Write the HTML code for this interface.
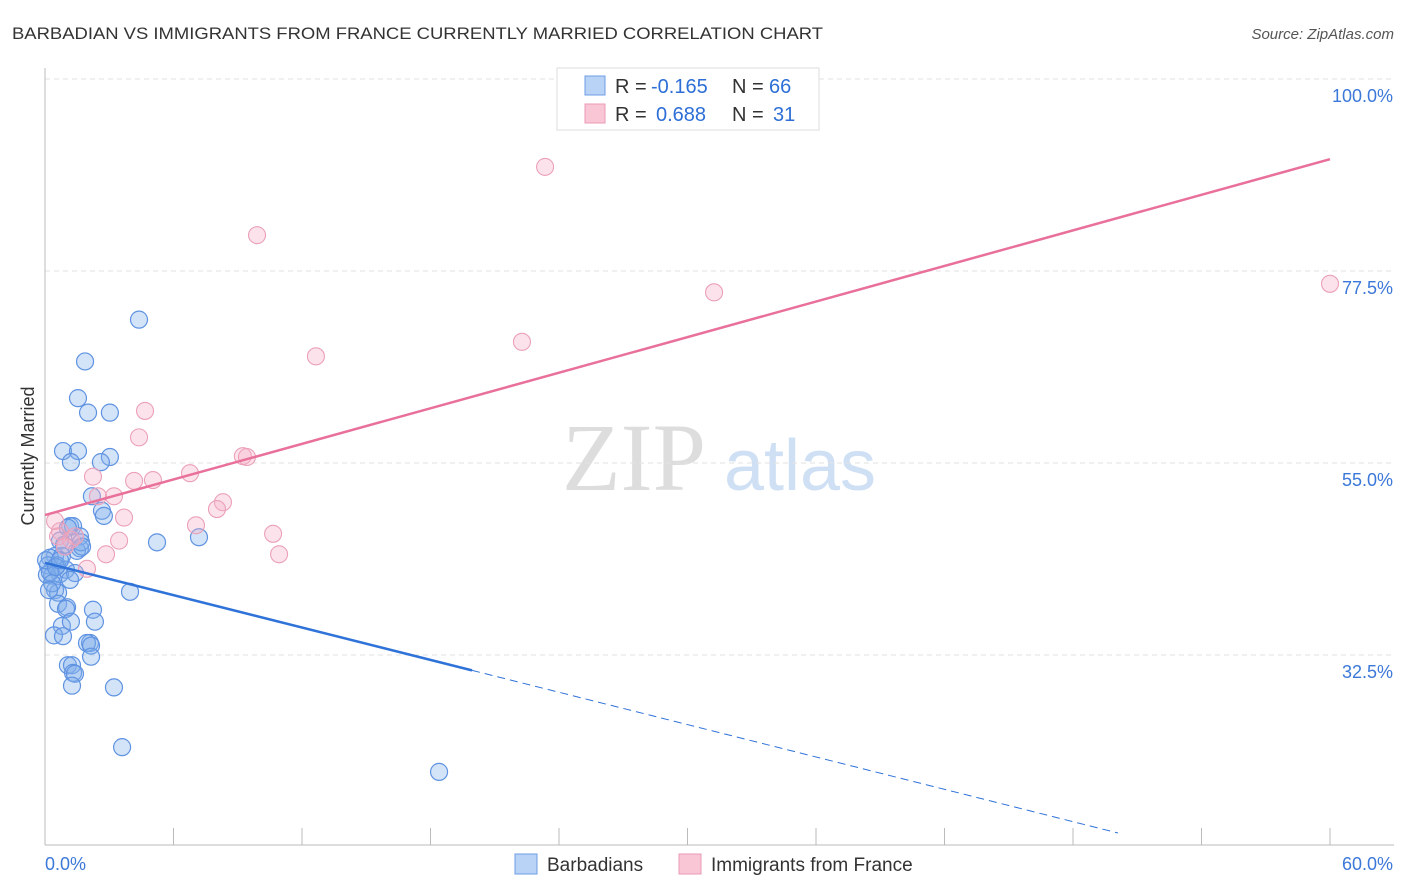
<!DOCTYPE html>
<html><head><meta charset="utf-8"><style>
body{margin:0;background:#fff;width:1406px;height:892px;overflow:hidden;font-family:"Liberation Sans",sans-serif}
svg{position:absolute;left:0;top:0}
</style></head><body>
<svg id="c" width="1406" height="892">
<text x="12" y="39" font-size="17" fill="#333" textLength="811" lengthAdjust="spacingAndGlyphs">BARBADIAN VS IMMIGRANTS FROM FRANCE CURRENTLY MARRIED CORRELATION CHART</text>
<text x="1394" y="39" font-size="15" fill="#555" font-style="italic" text-anchor="end">Source: ZipAtlas.com</text>
<text x="634" y="490" font-size="96" fill="#ddd" font-family="Liberation Serif,serif" text-anchor="middle">ZIP</text>
<text x="800" y="490" font-size="72" fill="#cfe0f5" text-anchor="middle">atlas</text>
<text transform="translate(34,456) rotate(-90)" font-size="18" fill="#333" text-anchor="middle">Currently Married</text>
<g id="grid"></g><g id="pts"></g><g id="lines"></g>
<g font-size="20">
<rect x="557" y="68" width="262" height="62" fill="#fff" stroke="#ddd"/>
<rect x="585" y="76" width="20" height="19" fill="#b8d3f5" stroke="#6d9ee6"/>
<rect x="585" y="104" width="20" height="19" fill="#f9c6d6" stroke="#eb9bb6"/>
<text x="615" y="93" fill="#333">R =</text><text x="651" y="93" fill="#2d6fd6">-0.165</text>
<text x="732" y="93" fill="#333">N =</text><text x="769" y="93" fill="#2d6fd6">66</text>
<text x="615" y="121" fill="#333">R =</text><text x="656" y="121" fill="#2d6fd6">0.688</text>
<text x="732" y="121" fill="#333">N =</text><text x="773" y="121" fill="#2d6fd6">31</text>
</g>
<g>
<rect x="515" y="854" width="22" height="20" fill="#b8d3f5" stroke="#6d9ee6"/>
<text x="547" y="871" font-size="19" fill="#333">Barbadians</text>
<rect x="679" y="854" width="22" height="20" fill="#f9c6d6" stroke="#eb9bb6"/>
<text x="711" y="871" font-size="19" fill="#333">Immigrants from France</text>
</g>
</svg>
<script>
const xTicks=[0,60];
const yTicks=[32.5,55.0,77.5,100.0];
const blueX=[4.39,1.87,1.54,2.01,3.03,0.84,1.54,3.03,1.21,2.61,2.19,2.66,2.75,1.17,1.31,1.63,0.70,1.63,1.49,0.47,0.23,0.79,0.14,0.56,0.98,0.33,0.70,1.40,1.17,0.47,0.61,3.97,0.61,1.03,0.98,2.24,0.79,1.21,2.33,0.42,0.84,2.10,1.96,2.15,2.15,1.07,1.26,1.31,1.40,1.26,3.22,3.60,18.40,5.23,7.19,0.09,0.23,0.05,0.33,0.51,0.89,1.68,0.70,0.19,1.07,1.73];
const blueY=[71.8,66.9,62.6,60.9,60.9,56.4,56.4,55.7,55.1,55.1,51.1,49.4,48.8,47.6,47.6,46.4,45.9,45.0,44.7,44.1,43.9,44.1,43.0,43.0,42.5,41.8,42.0,42.1,41.3,40.1,39.8,39.9,38.5,38.1,37.9,37.8,35.9,36.4,36.4,34.8,34.7,33.9,33.9,33.6,32.3,31.3,31.3,30.4,30.3,28.9,28.7,21.7,18.8,45.7,46.3,41.9,42.2,43.6,40.9,42.8,45.4,45.7,43.6,40.1,47.4,45.2];
const pinkX=[23.35,9.90,31.24,60.0,22.27,12.65,4.67,4.39,6.77,9.24,9.43,5.04,4.16,2.24,3.22,2.47,8.31,8.03,3.69,7.05,10.65,3.46,10.93,2.85,0.47,0.70,0.61,1.21,1.96,1.40,0.93];
const pinkY=[89.7,81.7,75.0,76.0,69.2,67.5,61.1,58.0,53.8,55.8,55.7,53.0,52.9,53.4,51.1,51.1,50.4,49.6,48.6,47.7,46.7,45.9,44.3,44.3,48.2,47.0,46.4,46.0,42.6,46.4,45.2];
const pinkTrend=[48.9,90.6];
const blueTrend=[43.3,-0.632];
const NS="http://www.w3.org/2000/svg";
const X=v=>45+v/60*1285, Y=v=>79+(100-v)*8.533;
function mk(t,a,p){const e=document.createElementNS(NS,t);for(const k in a)e.setAttribute(k,a[k]);document.getElementById(p).appendChild(e);return e;}
yTicks.forEach(t=>{
 const l=mk('line',{x1:45,x2:1394,y1:Y(t),y2:Y(t),stroke:'#e2e2e2','stroke-dasharray':'5,4'},'grid');
 
 
 const tx=mk('text',{x:1393,y:Y(t)+23,'font-size':18,fill:'#3b78d8','text-anchor':'end'},'grid');
 tx.textContent=t.toFixed(1)+'%';
 
 
});
mk('line',{x1:45,x2:45,y1:68,y2:845,stroke:'#bbb'},'grid');
mk('line',{x1:45,x2:1394,y1:845,y2:845,stroke:'#bbb'},'grid');
for(let i=0;i<=10;i++){mk('line',{x1:X(i*6),x2:X(i*6),y1:828,y2:845,stroke:'#bbb'},'grid');}
xTicks.forEach((t,i)=>{
 const tx=mk('text',{x:i?1393:45,y:870,'font-size':18,fill:'#3b78d8','text-anchor':i?'end':'start'},'grid');
 tx.textContent=t.toFixed(1)+'%';
 
 
});
blueX.forEach((v,i)=>{
 const c=mk('circle',{cx:X(v),cy:Y(blueY[i]),r:8.5,fill:'rgba(130,175,235,0.35)',stroke:'#5f93e2','stroke-width':1.2},'pts');
 
 
});
pinkX.forEach((v,i)=>{
 const c=mk('circle',{cx:X(v),cy:Y(pinkY[i]),r:8.5,fill:'rgba(245,175,198,0.35)',stroke:'#eba0b8','stroke-width':1.1},'pts');
 
 
});
const pl=mk('line',{x1:X(0),y1:Y(pinkTrend[0]),x2:X(60),y2:Y(pinkTrend[1]),stroke:'#e8709a','stroke-width':2.5},'lines');


const bf=x=>blueTrend[0]+blueTrend[1]*x;
const bl=mk('line',{x1:X(0),y1:Y(bf(0)),x2:X(19.94),y2:Y(bf(19.94)),stroke:'#2f72d8','stroke-width':2.5},'lines');


const bd=mk('line',{x1:X(19.94),y1:Y(bf(19.94)),x2:X(50.1),y2:Y(bf(50.1)),stroke:'#2f72d8','stroke-width':1,'stroke-dasharray':'8,5'},'lines');


</script>
</body></html>
